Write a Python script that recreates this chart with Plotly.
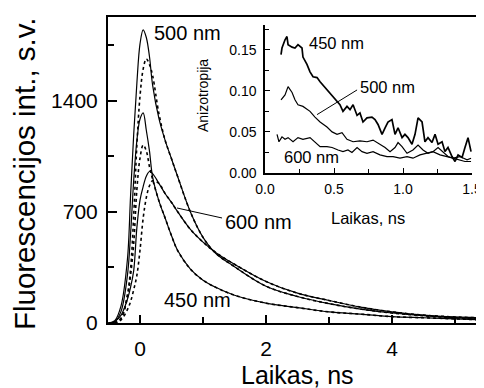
import plotly.graph_objects as go

# ---------------- main panel data (time, ns; intensity, a.u.) ----------------
t_main = [-0.5, -0.4, -0.3, -0.2, -0.15, -0.1, -0.05, 0.0, 0.05, 0.1, 0.15, 0.2,
          0.3, 0.4, 0.5, 0.6, 0.8, 1.0, 1.2, 1.5, 2.0, 2.5, 3.0, 3.5, 4.0, 4.5, 5.0, 5.45]

i500 = [0, 15, 110, 400, 800, 1190, 1510, 1760, 1848, 1800, 1680, 1500,
        1290, 1150, 1035, 920, 700, 540, 440, 355, 232, 167, 122, 88, 63, 46, 33, 25]
i450 = [0, 8, 75, 300, 560, 900, 1150, 1285, 1325, 1215, 1085, 920,
        770, 660, 550, 455, 340, 270, 225, 175, 125, 97, 70, 56, 40, 33, 26, 19]
i600 = [0, 10, 50, 150, 225, 330, 600, 775, 860, 925, 955, 942,
        880, 815, 760, 700, 590, 510, 445, 370, 262, 188, 142, 100, 70, 50, 38, 32]

# dotted companions: own rising part, then they follow the solid decay
d500_head = [0, 2, 30, 180, 340, 680, 1120, 1430, 1600, 1665, 1630, 1560, 1320, 1150]
d450_head = [0, 0, 30, 160, 300, 500, 840, 1040, 1122, 1085, 985, 905]
d600_head = [0, 0, 20, 85, 135, 210, 300, 460, 660, 790, 865, 897, 880, 815]

# ---------------- inset data (time, ns; anisotropy) ----------------
t_a450 = [0.116, 0.123, 0.145, 0.159, 0.167, 0.196, 0.217, 0.239, 0.268, 0.275, 0.304, 0.326,
          0.348, 0.377, 0.399, 0.435, 0.471, 0.493, 0.522, 0.543, 0.565, 0.594, 0.616, 0.638,
          0.667, 0.688, 0.71, 0.739, 0.775, 0.797, 0.819, 0.848, 0.87, 0.891, 0.92, 0.942,
          0.964, 0.993, 1.014, 1.036, 1.065, 1.087, 1.109, 1.138, 1.159, 1.181, 1.21, 1.232,
          1.254, 1.283, 1.304, 1.326, 1.355, 1.377, 1.399, 1.428, 1.449, 1.471, 1.493]
a450 = [0.144, 0.152, 0.162, 0.166, 0.156, 0.153, 0.152, 0.156, 0.152, 0.141, 0.132, 0.123,
        0.117, 0.116, 0.111, 0.104, 0.098, 0.093, 0.087, 0.083, 0.075, 0.081, 0.077, 0.083,
        0.070, 0.073, 0.062, 0.067, 0.068, 0.065, 0.059, 0.047, 0.055, 0.062, 0.065, 0.047,
        0.055, 0.043, 0.047, 0.043, 0.035, 0.047, 0.067, 0.062, 0.038, 0.043, 0.037, 0.047,
        0.035, 0.038, 0.026, 0.031, 0.020, 0.014, 0.022, 0.019, 0.031, 0.043, 0.026]

t_a500 = [0.116, 0.145, 0.167, 0.196, 0.217, 0.239, 0.275, 0.326, 0.362, 0.399, 0.449, 0.486,
          0.522, 0.558, 0.594, 0.638, 0.688, 0.739, 0.783, 0.812, 0.833, 0.87, 0.906, 0.942,
          0.964, 0.993, 1.029, 1.072, 1.109, 1.145, 1.181, 1.217, 1.254, 1.29, 1.326, 1.362,
          1.413, 1.449, 1.493]
a500 = [0.089, 0.095, 0.105, 0.098, 0.089, 0.083, 0.081, 0.075, 0.068, 0.062, 0.056, 0.050,
        0.047, 0.049, 0.041, 0.038, 0.039, 0.038, 0.040, 0.037, 0.034, 0.031, 0.026, 0.031,
        0.037, 0.032, 0.024, 0.028, 0.034, 0.028, 0.024, 0.026, 0.031, 0.026, 0.020, 0.018,
        0.016, 0.014, 0.014]

t_a600 = [0.087, 0.101, 0.123, 0.145, 0.167, 0.203, 0.239, 0.275, 0.326, 0.362, 0.399, 0.449,
          0.486, 0.529, 0.565, 0.601, 0.63, 0.667, 0.703, 0.739, 0.783, 0.833, 0.884, 0.928,
          0.978, 1.029, 1.072, 1.123, 1.174, 1.217, 1.268, 1.319, 1.362, 1.413, 1.464, 1.493]
a600 = [0.047, 0.038, 0.044, 0.041, 0.043, 0.038, 0.043, 0.041, 0.043, 0.037, 0.032, 0.032,
        0.031, 0.028, 0.026, 0.028, 0.025, 0.031, 0.026, 0.024, 0.026, 0.022, 0.020, 0.020,
        0.018, 0.020, 0.018, 0.022, 0.024, 0.026, 0.022, 0.020, 0.018, 0.020, 0.016, 0.018]

FONT = "Liberation Sans, Arial, sans-serif"
BLACK = "black"

fig = go.Figure()

solid = dict(color=BLACK, width=1.2)
dotted = dict(color=BLACK, width=1.6, dash="dot")

for vals in (i500, i450, i600):
    fig.add_trace(go.Scatter(x=t_main, y=vals, mode="lines", line=solid,
                             line_shape="spline", showlegend=False, hoverinfo="skip"))

for head, full in ((d500_head, i500), (d450_head, i450), (d600_head, i600)):
    vals = head + full[len(head):]
    fig.add_trace(go.Scatter(x=t_main, y=vals, mode="lines", line=dotted,
                             line_shape="spline", showlegend=False, hoverinfo="skip"))

for tt, aa, lw in ((t_a450, a450, 1.7), (t_a500, a500, 1.2), (t_a600, a600, 1.2)):
    fig.add_trace(go.Scatter(x=tt, y=aa, mode="lines", line=dict(color=BLACK, width=lw),
                             xaxis="x2", yaxis="y2", showlegend=False, hoverinfo="skip"))

# the page body has an 8px default margin, so the figure is sized/offset to compensate
W, H = 476, 380
ml, mr, mt, mb = 100, 1, 9, 65

common = dict(showgrid=False, zeroline=False, automargin=False, tickcolor=BLACK,
              linecolor=BLACK, showline=True)

fig.update_layout(
    width=W, height=H,
    margin=dict(l=ml, r=mr, t=mt, b=mb, pad=0, autoexpand=False),
    paper_bgcolor="white", plot_bgcolor="white",
    font=dict(family=FONT, color=BLACK),
    xaxis=dict(range=[-0.508, 5.444], tick0=0, dtick=2, ticks="inside", ticklen=8,
               tickwidth=1.5, linewidth=2, mirror=True,
               tickfont=dict(size=21, family=FONT), ticklabelstandoff=6,
               minor=dict(ticks="inside", dtick=1, tick0=0, ticklen=6, tickwidth=1.5,
                          tickcolor=BLACK, showgrid=False), **common),
    yaxis=dict(range=[0, 1929], tick0=0, dtick=700, ticks="inside", ticklen=9,
               tickwidth=1.5, linewidth=2, mirror=True,
               tickfont=dict(size=21, family=FONT), ticklabelstandoff=4,
               minor=dict(ticks="inside", dtick=350, tick0=0, ticklen=6, tickwidth=1.5,
                          tickcolor=BLACK, showgrid=False), **common),
    xaxis2=dict(domain=[0.4187, 0.9707], anchor="y2", range=[0, 1.5], tick0=0, dtick=0.5,
                tickformat=".1f", ticks="inside", ticklen=5, tickwidth=1.2, linewidth=1.5,
                tickfont=dict(size=14, family=FONT), ticklabelstandoff=2,
                minor=dict(ticks="inside", dtick=0.25, tick0=0, ticklen=4, tickwidth=1.2,
                           tickcolor=BLACK, showgrid=False), **common),
    yaxis2=dict(domain=[0.4902, 0.9739], anchor="x2", range=[0, 0.18], tick0=0, dtick=0.05,
                tickformat=".2f", ticks="inside", ticklen=5, tickwidth=1.2, linewidth=1.5,
                tickfont=dict(size=14, family=FONT), ticklabelstandoff=4,
                minor=dict(ticks="inside", dtick=0.025, tick0=0, ticklen=4, tickwidth=1.2,
                           tickcolor=BLACK, showgrid=False), **common),
)

def ann(text, x, y, size, xref="x", yref="y", xanchor="left", angle=0):
    fig.add_annotation(text=text, x=x, y=y, xref=xref, yref=yref, showarrow=False,
                       xanchor=xanchor, yanchor="middle", textangle=angle,
                       font=dict(size=size, family=FONT, color=BLACK))

# axis titles
ann("Laikas, ns", 0.504, -0.170, 25, xref="paper", yref="paper", xanchor="center")
ann("Fluorescencijos int., s.v.", -0.221, 0.487, 29.5, xref="paper", yref="paper",
    xanchor="center", angle=-90)
ann("Anizotropija", 0.2533, 0.745, 14, xref="paper", yref="paper", xanchor="center", angle=-90)
ann("Laikas, ns", 0.6933, 0.343, 16.5, xref="paper", yref="paper", xanchor="center")

# curve labels (main)
ann("500 nm", 0.19, 1828, 20)
ann("600 nm", 1.317, 635, 20)
ann("450 nm", 0.349, 142, 20)
fig.add_shape(type="line", x0=1.302, y0=662, x1=0.587, y1=725, xref="x", yref="y",
              line=dict(color=BLACK, width=1))

# curve labels (inset)
ann("450 nm", 0.304, 0.1585, 16.5, xref="x2", yref="y2")
ann("500 nm", 0.674, 0.105, 16.5, xref="x2", yref="y2")
ann("600 nm", 0.123, 0.020, 16.5, xref="x2", yref="y2")
fig.add_shape(type="line", x0=0.667, y0=0.101, x1=0.377, y1=0.071, xref="x2", yref="y2",
              line=dict(color=BLACK, width=1))

fig.write_html("out.html")
